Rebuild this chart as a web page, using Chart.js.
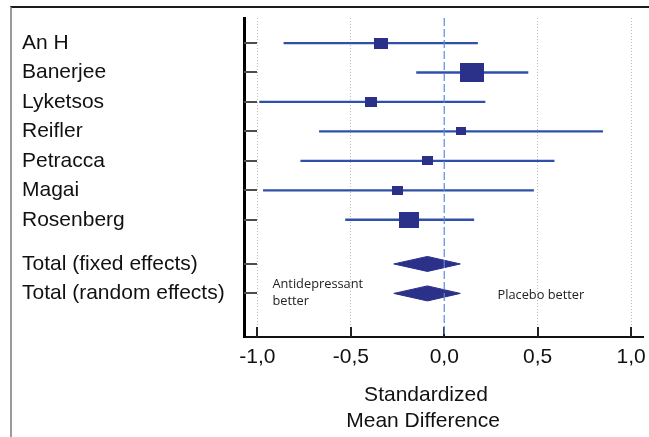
<!DOCTYPE html>
<html>
<head>
<meta charset="utf-8">
<script src="https://cdn.jsdelivr.net/npm/chart.js@4/dist/chart.umd.min.js"></script>
<style>
  html, body { margin: 0; padding: 0; background: #fff; }
  .frame {
    position: absolute; left: 10px; top: 6px; right: 0; bottom: 0;
    border-top: 2px solid #1c1c1c; border-left: 2px solid #9a9a9a;
  }
  #forest { position: absolute; left: 0; top: 0; }
</style>
</head>
<body>
<div class="frame"></div>
<canvas id="forest" width="649" height="437"></canvas>
<script>
const studies = ['An H', 'Banerjee', 'Lyketsos', 'Reifler', 'Petracca', 'Magai', 'Rosenberg']
const smd = [-0.34, 0.15, -0.39, 0.09, -0.09, -0.25, -0.19]
const ciLow = [-0.86, -0.15, -0.99, -0.67, -0.77, -0.97, -0.53]
const ciHigh = [0.18, 0.45, 0.22, 0.85, 0.59, 0.48, 0.16]
const weights = [11.9, 35.2, 8.7, 5.8, 7.0, 7.0, 24.5]

const pooled = ['Total (fixed effects)', 'Total (random effects)']
const pooledSmd = [-0.09, -0.09]
const pooledLow = [-0.27, -0.27]
const pooledHigh = [0.086, 0.086]

const xTicks = [-1, -0.5, 0, 0.5, 1]

const font = 'Liberation Sans, Arial, sans-serif'
const lineBlue = '#2f50a8'
const navy = '#2b3088'

// row positions: studies 1..n, then a half row gap before the totals
const studyRows = studies.map((s, i) => i + 1)
const pooledRows = pooled.map((s, j) => studies.length + 1.5 + j)
const rowLabel = {}
studyRows.forEach((r, i) => (rowLabel[r] = studies[i]))
pooledRows.forEach((r, j) => (rowLabel[r] = pooled[j]))

const yMin = 0.15
const yMax = 10.98

// square markers, area proportional to weight
const markers = weights.map(w => {
  const c = document.createElement('canvas')
  c.width = Math.round(4.1 * Math.sqrt(w))
  c.height = Math.round(3.27 * Math.sqrt(w))
  const g = c.getContext('2d')
  g.fillStyle = navy
  g.fillRect(0, 0, c.width, c.height)
  return c
})

const datasets = []

studies.forEach((s, i) => {
  datasets.push({
    data: [{ x: ciLow[i], y: studyRows[i] }, { x: ciHigh[i], y: studyRows[i] }],
    borderColor: lineBlue,
    borderWidth: 2.3,
    pointRadius: 0,
    order: 3
  })
})

datasets.push({
  data: studies.map((s, i) => ({ x: smd[i], y: studyRows[i] })),
  showLine: false,
  pointStyle: ctx => markers[ctx.dataIndex],
  pointRadius: 5,
  order: 1
})

const halfH = 0.255
pooled.forEach((p, j) => {
  const r = pooledRows[j]
  datasets.push({
    data: [{ x: pooledLow[j], y: r }, { x: pooledSmd[j], y: r - halfH }, { x: pooledHigh[j], y: r }],
    borderColor: navy,
    borderWidth: 1,
    backgroundColor: navy,
    pointRadius: 0,
    fill: '+1',
    order: 2
  })
  datasets.push({
    data: [{ x: pooledLow[j], y: r }, { x: pooledSmd[j], y: r + halfH }, { x: pooledHigh[j], y: r }],
    borderColor: navy,
    borderWidth: 1,
    pointRadius: 0,
    fill: false,
    order: 2
  })
})

datasets.push({
  data: [{ x: 0, y: yMin }, { x: 0, y: yMax }],
  borderColor: '#5a8ad8',
  borderWidth: 1.2,
  borderDash: [8, 3],
  pointRadius: 0,
  order: 0
})

const axisTicks = {
  id: 'axisTicks',
  beforeDatasetsDraw (chart) {
    const { ctx, chartArea, scales: { x, y } } = chart
    ctx.save()
    ctx.lineWidth = 2
    ctx.strokeStyle = '#4d4d4d'
    y.ticks.forEach(t => {
      const py = Math.round(y.getPixelForValue(t.value))
      ctx.beginPath()
      ctx.moveTo(chartArea.left, py)
      ctx.lineTo(chartArea.left + 13, py)
      ctx.stroke()
    })
    ctx.strokeStyle = '#222'
    x.ticks.forEach(t => {
      const px = Math.round(x.getPixelForValue(t.value))
      ctx.beginPath()
      ctx.moveTo(px, chartArea.bottom)
      ctx.lineTo(px, chartArea.bottom - 10)
      ctx.stroke()
    })
    ctx.restore()
  }
}

const notes = {
  id: 'notes',
  afterDatasetsDraw (chart) {
    const { ctx, scales: { x, y } } = chart
    ctx.save()
    ctx.font = '12.8px "Open Sans", sans-serif'
    ctx.fillStyle = '#222'
    ctx.textAlign = 'left'
    ctx.textBaseline = 'middle'
    ctx.fillText('Antidepressant', x.getPixelForValue(-0.92), y.getPixelForValue(9.2))
    ctx.fillText('better', x.getPixelForValue(-0.92), y.getPixelForValue(9.775))
    ctx.fillText('Placebo better', x.getPixelForValue(0.285), y.getPixelForValue(9.57))
    ctx.restore()
  }
}

// fixed axis sizes, no extra padding from label overflow
const noPad = s => {
  s.paddingTop = 0
  s.paddingBottom = 0
  s.paddingLeft = 0
  s.paddingRight = 0
}

new Chart(document.getElementById('forest'), {
  type: 'line',
  data: { datasets },
  plugins: [axisTicks, notes],
  options: {
    responsive: false,
    animation: false,
    layout: { autoPadding: false, padding: { left: 22, top: 18, right: 6, bottom: 0 } },
    plugins: { legend: { display: false }, tooltip: { enabled: false } },
    scales: {
      x: {
        type: 'linear',
        min: -1.072,
        max: 1.064,
        afterBuildTicks: s => { s.ticks = xTicks.map(v => ({ value: v })) },
        afterFit: s => { s.height = 100; noPad(s) },
        ticks: {
          autoSkip: false,
          maxRotation: 0,
          padding: 8,
          color: '#111',
          font: { family: font, size: 21 },
          callback: v => v.toFixed(1).replace('.', ',')
        },
        grid: {
          drawTicks: false,
          color: c => (c.tick && c.tick.value === 0 ? 'rgba(0,0,0,0)' : '#bdbdbd')
        },
        border: { display: true, color: '#111', width: 2, dash: [1, 2] },
        title: {
          display: true,
          text: ['Standardized      ', 'Mean Difference       '],
          color: '#111',
          font: { family: font, size: 21, lineHeight: 1.27 },
          padding: { top: 11, bottom: 2 }
        }
      },
      y: {
        type: 'linear',
        reverse: true,
        min: yMin,
        max: yMax,
        afterBuildTicks: s => { s.ticks = studyRows.concat(pooledRows).map(v => ({ value: v })) },
        afterFit: s => { s.width = 222; noPad(s) },
        ticks: {
          autoSkip: false,
          crossAlign: 'far',
          padding: 0,
          color: '#111',
          font: { family: font, size: 21 },
          callback: v => rowLabel[v]
        },
        grid: { display: false },
        border: { display: true, color: '#000', width: 3 }
      }
    }
  }
})
</script>
</body>
</html>
